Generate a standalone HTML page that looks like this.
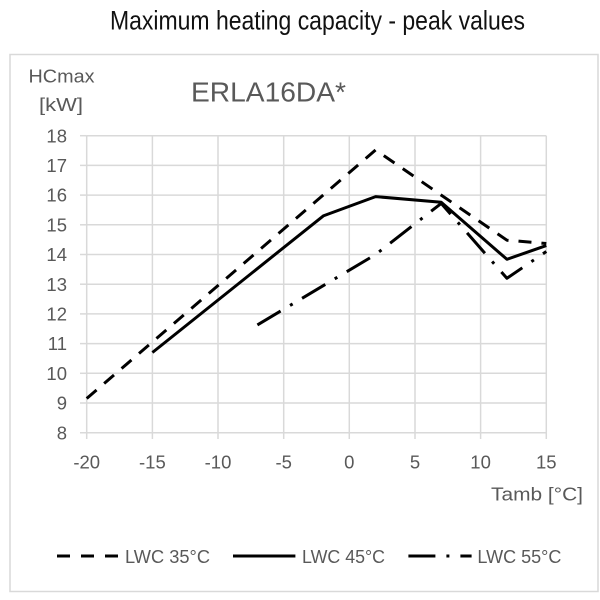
<!DOCTYPE html>
<html><head><meta charset="utf-8"><style>
html,body{margin:0;padding:0;background:#fff;}
svg{display:block;}
text{font-family:"Liberation Sans",Arial,sans-serif;}
</style></head><body>
<svg width="600" height="600" viewBox="0 0 600 600" xmlns="http://www.w3.org/2000/svg">
<rect x="0" y="0" width="600" height="600" fill="#fff"/>
<text x="110" y="29.5" font-size="27" fill="#111" textLength="415" lengthAdjust="spacingAndGlyphs">Maximum heating capacity - peak values</text>
<rect x="10" y="54.5" width="588" height="537" fill="none" stroke="#d9d9d9" stroke-width="1.5"/>
<text x="28.5" y="82.5" font-size="18" fill="#595959" textLength="66" lengthAdjust="spacingAndGlyphs">HCmax</text>
<text x="39" y="111" font-size="18" fill="#595959" textLength="44" lengthAdjust="spacingAndGlyphs">[kW]</text>
<text x="191" y="101.5" font-size="27.5" fill="#595959" textLength="155" lengthAdjust="spacingAndGlyphs">ERLA16DA*</text>
<g stroke="#d9d9d9" stroke-width="1.5" fill="none">
<line x1="86.7" y1="135.7" x2="546.3" y2="135.7"/>
<line x1="86.7" y1="165.4" x2="546.3" y2="165.4"/>
<line x1="86.7" y1="195.1" x2="546.3" y2="195.1"/>
<line x1="86.7" y1="224.8" x2="546.3" y2="224.8"/>
<line x1="86.7" y1="254.5" x2="546.3" y2="254.5"/>
<line x1="86.7" y1="284.2" x2="546.3" y2="284.2"/>
<line x1="86.7" y1="313.9" x2="546.3" y2="313.9"/>
<line x1="86.7" y1="343.6" x2="546.3" y2="343.6"/>
<line x1="86.7" y1="373.3" x2="546.3" y2="373.3"/>
<line x1="86.7" y1="403.0" x2="546.3" y2="403.0"/>
<line x1="80" y1="432.7" x2="546.3" y2="432.7"/>
<line x1="86.7" y1="135.7" x2="86.7" y2="439"/>
<line x1="152.4" y1="135.7" x2="152.4" y2="439"/>
<line x1="218.0" y1="135.7" x2="218.0" y2="439"/>
<line x1="283.7" y1="135.7" x2="283.7" y2="439"/>
<line x1="349.3" y1="135.7" x2="349.3" y2="439"/>
<line x1="415.0" y1="135.7" x2="415.0" y2="439"/>
<line x1="480.6" y1="135.7" x2="480.6" y2="439"/>
<line x1="546.3" y1="135.7" x2="546.3" y2="439"/>
<line x1="80" y1="135.7" x2="86.7" y2="135.7"/>
<line x1="80" y1="165.4" x2="86.7" y2="165.4"/>
<line x1="80" y1="195.1" x2="86.7" y2="195.1"/>
<line x1="80" y1="224.8" x2="86.7" y2="224.8"/>
<line x1="80" y1="254.5" x2="86.7" y2="254.5"/>
<line x1="80" y1="284.2" x2="86.7" y2="284.2"/>
<line x1="80" y1="313.9" x2="86.7" y2="313.9"/>
<line x1="80" y1="343.6" x2="86.7" y2="343.6"/>
<line x1="80" y1="373.3" x2="86.7" y2="373.3"/>
<line x1="80" y1="403.0" x2="86.7" y2="403.0"/>
</g>
<g font-size="18.5" fill="#595959" text-anchor="end">
<text x="67" y="142.3">18</text>
<text x="67" y="172">17</text>
<text x="67" y="201.7">16</text>
<text x="67" y="231.4">15</text>
<text x="67" y="261.1">14</text>
<text x="67" y="290.8">13</text>
<text x="67" y="320.5">12</text>
<text x="67" y="350.2">11</text>
<text x="67" y="379.9">10</text>
<text x="67" y="409.6">9</text>
<text x="67" y="439.3">8</text>
</g>
<g font-size="18.5" fill="#595959" text-anchor="middle">
<text x="86.7" y="468.5">-20</text>
<text x="152.4" y="468.5">-15</text>
<text x="218.0" y="468.5">-10</text>
<text x="283.7" y="468.5">-5</text>
<text x="349.3" y="468.5">0</text>
<text x="415.0" y="468.5">5</text>
<text x="480.6" y="468.5">10</text>
<text x="546.3" y="468.5">15</text>
</g>
<text x="491" y="500.5" font-size="18.5" fill="#595959" textLength="92" lengthAdjust="spacingAndGlyphs">Tamb [°C]</text>
<g fill="none" stroke="#000" stroke-width="3" stroke-linejoin="round">
<polyline points="86.7,398.5 375.6,150.0 441.2,195.1 506.9,240.2 546.3,243.5" stroke-dasharray="13 10"/>
<polyline points="152.4,352.5 323.3,215.9 375.6,196.6 441.2,202.2 506.9,259.3 546.3,245.6"/>
<polyline points="257.4,324.9 375.6,254.5 441.2,203.4 506.9,278.3 546.3,251.5" stroke-dasharray="27 11 3 11"/>
<line x1="57" y1="556" x2="119.3" y2="556" stroke-dasharray="13 11"/>
<line x1="233" y1="556" x2="295.4" y2="556"/>
<line x1="408.4" y1="556" x2="471.6" y2="556" stroke-dasharray="27 11 3 11"/>
</g>
<g font-size="18" fill="#595959">
<text x="125" y="563" textLength="85" lengthAdjust="spacingAndGlyphs">LWC 35°C</text>
<text x="302" y="563" textLength="83" lengthAdjust="spacingAndGlyphs">LWC 45°C</text>
<text x="477.4" y="563" textLength="84" lengthAdjust="spacingAndGlyphs">LWC 55°C</text>
</g>
</svg>
</body></html>
